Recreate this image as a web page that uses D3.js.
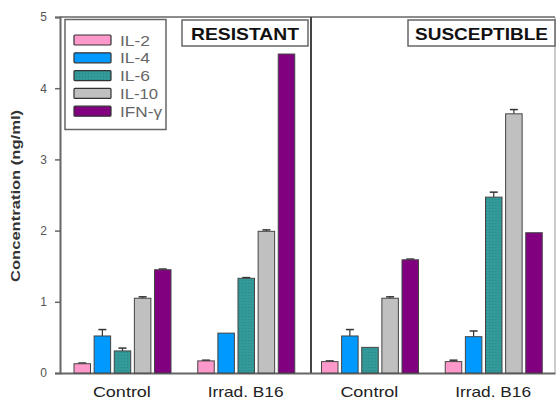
<!DOCTYPE html>
<html><head><meta charset="utf-8">
<script src="https://cdn.jsdelivr.net/npm/d3@7"></script>
<style>body{margin:0;background:#fff}svg{display:block}</style>
</head><body>
<script>
const groups = ["R-Control","R-Irrad","S-Control","S-Irrad"];
const groupLabels = ["Control","Irrad. B16","Control","Irrad. B16"];
const series = ["IL-2","IL-4","IL-6","IL-10","IFN-γ"];
const colors = ["#ff99cc","#0099ff","#339999","#c0c0c0","#800080"];
// values per series across groups
const il2  = [0.13, 0.17, 0.16, 0.16];
const il4  = [0.52, 0.56, 0.52, 0.51];
const il6  = [0.31, 1.33, 0.36, 2.47];
const il10 = [1.05, 1.99, 1.05, 3.64];
const ifn  = [1.45, 4.48, 1.59, 1.97];
const il2Err  = [0.01, 0.01, 0.01, 0.02];
const il4Err  = [0.09, 0.00, 0.09, 0.08];
const il6Err  = [0.04, 0.01, 0.00, 0.07];
const il10Err = [0.02, 0.02, 0.02, 0.06];
const ifnErr  = [0.01, 0.00, 0.01, 0.00];
const yTicks = [0,1,2,3,4,5];
const panelLabels = ["RESISTANT","SUSCEPTIBLE"];

const vals = [il2, il4, il6, il10, ifn];
const errs = [il2Err, il4Err, il6Err, il10Err, ifnErr];

const FONT="Liberation Sans, Arial, sans-serif";
const W=556,H=401;
const svg=d3.select("body").append("svg").attr("width",W).attr("height",H);
const defs=svg.append("defs");
const pat=defs.append("pattern").attr("id","dots").attr("patternUnits","userSpaceOnUse").attr("width",3).attr("height",3);
pat.append("rect").attr("width",3).attr("height",3).attr("fill","#339999");
pat.append("rect").attr("x",1).attr("y",1).attr("width",1).attr("height",1).attr("fill","#2a8585");

const x0=d3.scaleBand().domain(groups).range([60,555]).paddingInner(0).paddingOuter(0);
const x1=d3.scaleBand().domain(series).range([14,111]).paddingInner(0.18);
const y=d3.scaleLinear().domain([0,5]).range([373,17]);

const axisColor="#666";
// frame
svg.append("line").attr("x1",60).attr("x2",555).attr("y1",y(5)).attr("y2",y(5)).attr("stroke",axisColor).attr("stroke-width",1.5);
svg.append("line").attr("x1",555).attr("x2",555).attr("y1",y(5)).attr("y2",y(0)).attr("stroke","#999").attr("stroke-width",1);
svg.append("line").attr("x1",311).attr("x2",311).attr("y1",y(5)).attr("y2",y(0)).attr("stroke","#444").attr("stroke-width",2);

// y axis
const yAxis=svg.append("g").attr("transform","translate(60,0)")
  .call(d3.axisLeft(y).tickValues(yTicks).tickSize(5).tickFormat(d3.format("d")));
yAxis.select(".domain").attr("stroke",axisColor).attr("stroke-width",2);
yAxis.selectAll(".tick line").attr("stroke",axisColor).attr("stroke-width",1.5);
yAxis.selectAll(".tick text").attr("fill","#555").attr("font-family",FONT).attr("font-size",12).attr("x",-13);

// x axis baseline
const xAxis=svg.append("g").attr("transform",`translate(0,${y(0)})`)
  .call(d3.axisBottom(x0).tickSize(0).tickFormat((d,i)=>groupLabels[i]));
xAxis.select(".domain").attr("stroke",axisColor).attr("stroke-width",2);
xAxis.selectAll(".tick text").attr("fill","#222").attr("font-family",FONT).attr("font-size",15).attr("dy",21)
  .attr("textLength",(d,i)=>groupLabels[i].length>7?76:58).attr("lengthAdjust","spacingAndGlyphs");

// y label
svg.append("text").attr("transform","translate(20,196) rotate(-90)").attr("text-anchor","middle")
  .attr("font-family",FONT).attr("font-size",13).attr("font-weight","bold").attr("fill","#333")
  .attr("textLength",172).attr("lengthAdjust","spacingAndGlyphs")
  .text("Concentration (ng/ml)");

// bars
groups.forEach((g,gi)=>{
  const gg=svg.append("g").attr("transform",`translate(${x0(g)},0)`);
  series.forEach((s,si)=>{
    const v=vals[si][gi], e=errs[si][gi];
    const bx=x1(s), bw=x1.bandwidth();
    if(e>0){
      const cx=bx+bw/2;
      gg.append("line").attr("x1",cx).attr("x2",cx).attr("y1",y(v)).attr("y2",y(v+e)).attr("stroke","#333").attr("stroke-width",1.2);
      gg.append("line").attr("x1",cx-4).attr("x2",cx+4).attr("y1",y(v+e)).attr("y2",y(v+e)).attr("stroke","#333").attr("stroke-width",1.5);
    }
    gg.append("rect").attr("x",bx).attr("y",y(v)).attr("width",bw).attr("height",y(0)-y(v))
      .attr("fill",si===2?"url(#dots)":colors[si]).attr("stroke","#444").attr("stroke-width",1);
  });
});

// legend
const lg=svg.append("g");
lg.append("rect").attr("x",65).attr("y",19.5).attr("width",101).attr("height",110).attr("fill","#fff").attr("stroke","#666").attr("stroke-width",1.5);
const legLen=[30,30,30,38,42];
series.forEach((s,i)=>{
  const yy=40+i*17.8;
  lg.append("rect").attr("x",74).attr("y",yy-5).attr("width",37).attr("height",10).attr("rx",1)
    .attr("fill",i===2?"url(#dots)":colors[i]).attr("stroke","#333").attr("stroke-width",1.2);
  lg.append("text").attr("x",120).attr("y",yy+5.5).attr("font-family",FONT).attr("font-size",15).attr("fill","#666")
    .attr("textLength",legLen[i]).attr("lengthAdjust","spacingAndGlyphs").text(s);
});

// panel labels
const pl=[{x:182,w:126,t:panelLabels[0],tl:108},{x:408,w:147,t:panelLabels[1],tl:133}];
pl.forEach(p=>{
  svg.append("rect").attr("x",p.x).attr("y",20).attr("width",p.w).attr("height",26).attr("fill","#fff").attr("stroke","#666").attr("stroke-width",1.5);
  svg.append("text").attr("x",p.x+p.w/2).attr("y",40).attr("text-anchor","middle").attr("font-family",FONT)
    .attr("font-size",17).attr("font-weight","bold").attr("fill","#111")
    .attr("textLength",p.tl).attr("lengthAdjust","spacingAndGlyphs").text(p.t);
});
</script>
</body></html>
